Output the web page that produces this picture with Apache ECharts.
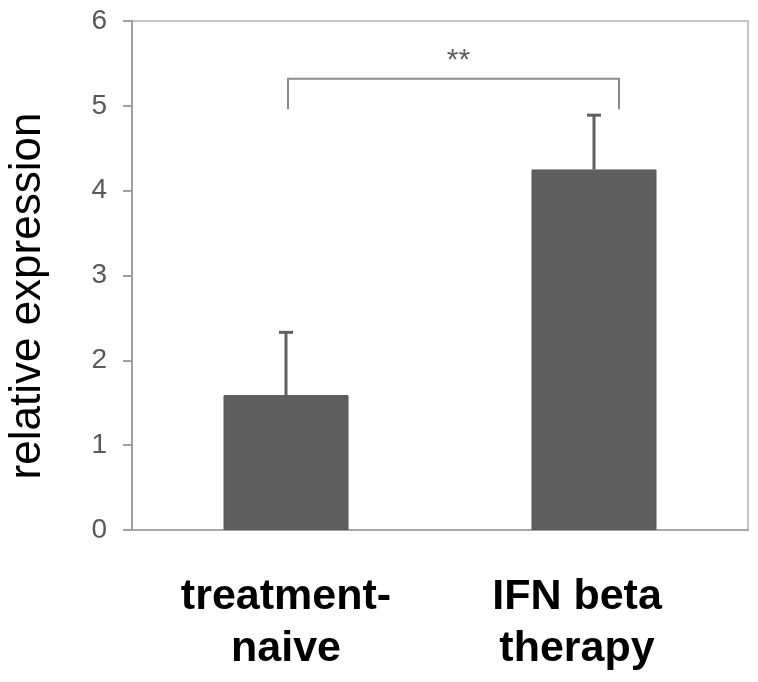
<!DOCTYPE html>
<html>
<head>
<meta charset="utf-8">
<script src="https://cdn.jsdelivr.net/npm/echarts@6/dist/echarts.min.js"></script>
<style>html,body{margin:0;padding:0;background:#fff}#c{width:758px;height:682px}</style>
</head>
<body>
<div id="c"></div>
<script>
const categories = ['treatment-\nnaive', 'IFN beta\ntherapy'];
const means = [1.59, 4.25];
const errTops = [2.33, 4.89];
const yTicks = [0, 1, 2, 3, 4, 5, 6];
const bracket = { from: 0, to: 1, top: 5.32, drop: 4.96, label: '**' };

const chart = echarts.init(document.getElementById('c'), null, { renderer: 'canvas' });
const errData = means.map((m, i) => [i, m, errTops[i]]);
const labelPad = [[0, 0, 0, 0], [0, 34, 0, 0]];
const catData = categories.map((c, i) => ({ value: c, textStyle: { padding: labelPad[i] } }));

chart.setOption({
  animation: false,
  backgroundColor: '#fff',
  grid: { left: 132, right: 10, top: 21, bottom: 152, show: true, borderColor: '#c4c4c4', borderWidth: 2, backgroundColor: 'transparent' },
  xAxis: {
    type: 'category',
    data: catData,
    axisLine: { show: true, lineStyle: { color: '#a6a6a6', width: 2 } },
    axisTick: { show: false },
    axisLabel: { margin: 41, fontFamily: 'Liberation Sans, Arial, sans-serif', fontWeight: 'bold', fontSize: 43, lineHeight: 52, color: '#000' }
  },
  yAxis: {
    type: 'value',
    min: 0, max: 6, interval: 1,
    axisLine: { show: true, lineStyle: { color: '#a0a0a0', width: 2 } },
    axisTick: { show: true, length: 9, lineStyle: { color: '#a0a0a0', width: 2 } },
    splitLine: { show: false },
    axisLabel: { margin: 25, fontFamily: 'Liberation Sans, Arial, sans-serif', fontSize: 28, color: '#595959',
      formatter: v => yTicks.includes(v) ? String(v) : '' }
  },
  graphic: [{
    type: 'text',
    rotation: Math.PI / 2,
    x: 28, y: 296,
    style: { text: 'relative expression', fontFamily: 'Liberation Sans, Arial, sans-serif', fontSize: 44, fill: '#000', textAlign: 'center', textVerticalAlign: 'middle' }
  }],
  series: [
    {
      type: 'bar', data: means, barWidth: 125,
      itemStyle: { color: '#5f5f5f', borderColor: '#565656', borderWidth: 1 },
      z: 2
    },
    {
      type: 'custom', data: errData, z: 3,
      renderItem: (params, api) => {
        const x = api.value(0);
        const p0 = api.coord([x, api.value(1)]);
        const p1 = api.coord([x, api.value(2)]);
        const half = 7;
        const st = { stroke: '#5f5f5f', lineWidth: 3 };
        return { type: 'group', children: [
          { type: 'line', shape: { x1: p0[0], y1: p0[1], x2: p1[0], y2: p1[1] }, style: st },
          { type: 'line', shape: { x1: p1[0] - half, y1: p1[1], x2: p1[0] + half, y2: p1[1] }, style: st }
        ]};
      }
    },
    {
      type: 'custom', data: [[bracket.from, bracket.to, bracket.top, bracket.drop]], z: 3,
      renderItem: (params, api) => {
        const a = api.coord([api.value(0), api.value(2)]);
        const b = api.coord([api.value(1), api.value(2)]);
        const yd = api.coord([api.value(0), api.value(3)])[1];
        const xl = a[0] + 2, xr = b[0] + 25;
        const st = { stroke: '#8a8a8a', lineWidth: 2, fill: 'none' };
        return { type: 'group', children: [
          { type: 'polyline', shape: { points: [[xl, yd], [xl, a[1]], [xr, a[1]], [xr, yd]] }, style: st },
          { type: 'text', x: (xl + xr) / 2 + 5, y: a[1] - 18, style: { text: bracket.label, fontFamily: 'Liberation Sans, Arial, sans-serif', fontSize: 30, fill: '#606060', textAlign: 'center', textVerticalAlign: 'middle' } }
        ]};
      }
    }
  ]
});
</script>
</body>
</html>
